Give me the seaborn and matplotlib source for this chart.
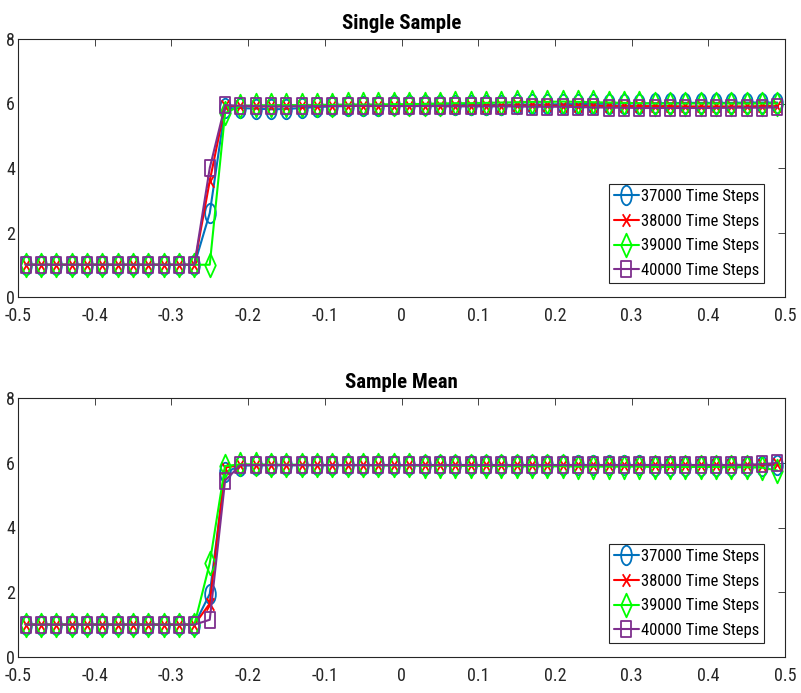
import numpy as np
import pandas as pd
import matplotlib
matplotlib.use("Agg")
import matplotlib.pyplot as plt
import seaborn as sns
from matplotlib.path import Path
from matplotlib.markers import MarkerStyle

# ---------------- data ----------------
x_vals = [-0.49, -0.47, -0.45, -0.43, -0.41, -0.39, -0.37, -0.35, -0.33, -0.31,
          -0.29, -0.27, -0.25, -0.23, -0.21, -0.19, -0.17, -0.15, -0.13, -0.11,
          -0.09, -0.07, -0.05, -0.03, -0.01, 0.01, 0.03, 0.05, 0.07, 0.09,
          0.11, 0.13, 0.15, 0.17, 0.19, 0.21, 0.23, 0.25, 0.27, 0.29,
          0.31, 0.33, 0.35, 0.37, 0.39, 0.41, 0.43, 0.45, 0.47, 0.49]

series_labels = ["37000 Time Steps", "38000 Time Steps", "39000 Time Steps", "40000 Time Steps"]
titles = ["Single Sample", "Sample Mean"]

low = [1.0] * 12

single_37000 = low + [2.6, 5.85,
    5.86, 5.84, 5.82, 5.83, 5.86, 5.89, 5.91, 5.92, 5.93, 5.93,
    5.94, 5.94, 5.95, 5.95, 5.95, 5.96, 5.96, 5.96, 5.97, 5.97,
    5.97, 5.98, 5.98, 5.99, 5.99, 6.00, 6.00, 6.01, 6.01, 6.02,
    6.02, 6.02, 6.02, 6.03, 6.03, 6.03]
single_38000 = low + [3.6, 5.93,
    5.92, 5.91, 5.91, 5.92, 5.92, 5.92, 5.93, 5.93, 5.92, 5.92,
    5.93, 5.93, 5.93, 5.92, 5.92, 5.93, 5.93, 5.93, 5.94, 5.94,
    5.94, 5.93, 5.93, 5.93, 5.92, 5.92, 5.92, 5.92, 5.92, 5.91,
    5.91, 5.91, 5.91, 5.91, 5.92, 5.92]
single_39000 = low + [1.0, 5.70,
    5.93, 5.94, 5.95, 5.95, 5.95, 5.96, 5.96, 5.97, 5.97, 5.97,
    5.98, 5.98, 5.99, 6.00, 6.01, 6.01, 6.02, 6.03, 6.04, 6.05,
    6.05, 6.06, 6.05, 6.04, 6.03, 6.02, 6.01, 6.00, 6.00, 6.00,
    6.00, 6.00, 6.00, 6.00, 6.00, 6.00]
single_40000 = low + [4.0, 5.95,
    5.93, 5.92, 5.91, 5.91, 5.92, 5.92, 5.92, 5.93, 5.93, 5.93,
    5.92, 5.92, 5.92, 5.92, 5.91, 5.91, 5.91, 5.91, 5.91, 5.90,
    5.90, 5.90, 5.89, 5.88, 5.87, 5.87, 5.86, 5.86, 5.86, 5.86,
    5.86, 5.86, 5.87, 5.87, 5.87, 5.88]

mean_37000 = low + [1.95, 5.70,
    5.91, 5.92, 5.92, 5.92, 5.92, 5.92, 5.92, 5.92, 5.92, 5.92,
    5.92, 5.92, 5.92, 5.92, 5.92, 5.92, 5.92, 5.92, 5.92, 5.92,
    5.92, 5.92, 5.92, 5.92, 5.92, 5.92, 5.92, 5.91, 5.91, 5.91,
    5.91, 5.91, 5.91, 5.91, 5.91, 5.93]
mean_38000 = low + [1.65, 5.85,
    5.93, 5.93, 5.93, 5.93, 5.93, 5.93, 5.93, 5.93, 5.93, 5.93,
    5.93, 5.93, 5.93, 5.93, 5.93, 5.93, 5.93, 5.93, 5.93, 5.93,
    5.93, 5.93, 5.93, 5.93, 5.93, 5.93, 5.93, 5.93, 5.93, 5.93,
    5.93, 5.93, 5.93, 5.93, 5.94, 5.96]
mean_39000 = low + [2.9, 5.90,
    5.95, 5.95, 5.94, 5.94, 5.94, 5.93, 5.93, 5.93, 5.93, 5.92,
    5.92, 5.92, 5.91, 5.91, 5.91, 5.90, 5.90, 5.90, 5.89, 5.89,
    5.89, 5.89, 5.88, 5.88, 5.88, 5.88, 5.88, 5.87, 5.87, 5.87,
    5.87, 5.87, 5.86, 5.86, 5.85, 5.76]
mean_40000 = low + [1.15, 5.45,
    5.93, 5.93, 5.93, 5.93, 5.93, 5.93, 5.93, 5.93, 5.93, 5.93,
    5.93, 5.93, 5.93, 5.93, 5.93, 5.93, 5.93, 5.93, 5.93, 5.93,
    5.93, 5.93, 5.93, 5.93, 5.93, 5.93, 5.93, 5.93, 5.93, 5.93,
    5.93, 5.93, 5.93, 5.94, 5.95, 6.00]

panels = [
    [single_37000, single_38000, single_39000, single_40000],
    [mean_37000, mean_38000, mean_39000, mean_40000],
]

x_ticks = [-0.5, -0.4, -0.3, -0.2, -0.1, 0, 0.1, 0.2, 0.3, 0.4, 0.5]
x_ticklabels = ["-0.5", "-0.4", "-0.3", "-0.2", "-0.1", "0", "0.1", "0.2", "0.3", "0.4", "0.5"]
y_ticks = [0, 2, 4, 6, 8]

# ---------------- style ----------------
sns.set_theme(style="white")
plt.rcParams["font.family"] = ["Roboto Condensed", "DejaVu Sans"]

axcol = (0.15, 0.15, 0.15)
colors = [(0.0, 0.447, 0.741), (1.0, 0.0, 0.0), (0.0, 1.0, 0.0), (0.494, 0.184, 0.556)]


def squash_circle(sx):
    p = Path.unit_circle()
    v = p.vertices.copy()
    v[:, 0] *= sx
    return Path(v, p.codes)


def diamond(sx):
    return Path([(0, 1), (sx, 0), (0, -1), (-sx, 0), (0, 1)],
                [Path.MOVETO, Path.LINETO, Path.LINETO, Path.LINETO, Path.CLOSEPOLY])


def square(sx):
    return Path([(-sx, -1), (sx, -1), (sx, 1), (-sx, 1), (-sx, -1)],
                [Path.MOVETO, Path.LINETO, Path.LINETO, Path.LINETO, Path.CLOSEPOLY])


def cross(sx):
    return Path([(-sx, -1), (sx, 1), (-sx, 1), (sx, -1)],
                [Path.MOVETO, Path.LINETO, Path.MOVETO, Path.LINETO])


markers = [squash_circle(0.55), cross(0.6), diamond(0.45), square(0.58)]
msizes = [14, 9, 17, 11.5]

fig = plt.figure(figsize=(8.01, 6.93), dpi=100)
ax_rects = [
    [18 / 801, (693 - 297) / 693, 767 / 801, 258 / 693],
    [18 / 801, (693 - 657) / 693, 767 / 801, 259 / 693],
]

for p, (rect, series_list, title) in enumerate(zip(ax_rects, panels, titles)):
    ax = fig.add_axes(rect)
    for vals, lab, col, mk, ms in zip(series_list, series_labels, colors, markers, msizes):
        df = pd.DataFrame({"x": x_vals, "y": vals})
        sns.lineplot(data=df, x="x", y="y", ax=ax, color=col, label=lab,
                     marker=MarkerStyle(mk), markersize=ms, markerfacecolor="none",
                     markeredgecolor=col, markeredgewidth=1.3, linewidth=1.5,
                     errorbar=None, legend=False)
    ax.set_xlim(-0.5, 0.5)
    ax.set_ylim(0, 8)
    ax.set_xticks(x_ticks)
    ax.set_xticklabels(x_ticklabels)
    ax.set_yticks(y_ticks)
    ax.set_xlabel("")
    ax.set_ylabel("")
    ax.set_title(title, fontsize=15, fontweight="bold", color="black", pad=7)
    for s in ax.spines.values():
        s.set_visible(True)
        s.set_color(axcol)
        s.set_linewidth(0.8)
    ax.tick_params(direction="in", top=True, right=True, length=5, width=0.6,
                   color=axcol, labelcolor=axcol, labelsize=13, pad=2)
    ax.tick_params(axis="x", pad=7)
    leg = ax.legend(loc="lower right", bbox_to_anchor=(0.9726, 0.054),
                    borderaxespad=0, fontsize=12, frameon=True, fancybox=False,
                    framealpha=1, edgecolor=axcol, handlelength=1.5,
                    handletextpad=0.12, labelspacing=0.58, borderpad=0.3)
    for t in leg.get_texts():
        t.set_color("black")
    leg.get_frame().set_linewidth(0.8)

fig.savefig("out.png", dpi=100)
